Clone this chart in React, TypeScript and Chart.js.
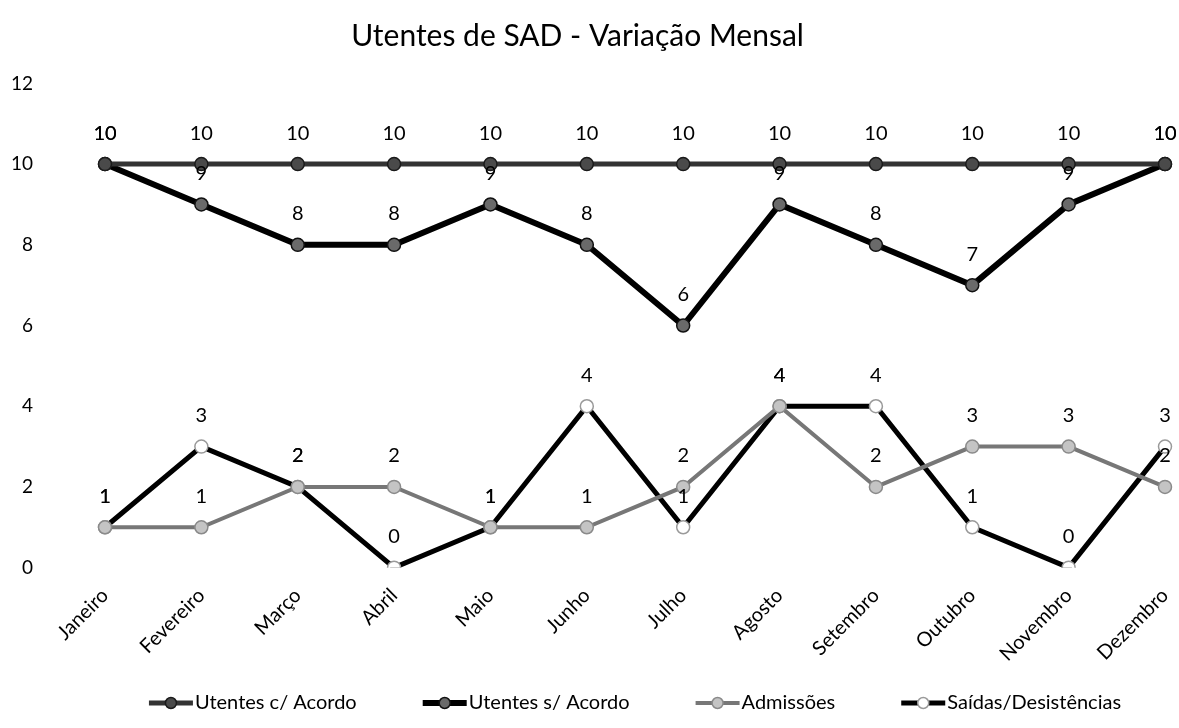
import React, { useEffect, useRef } from "react";
import { Chart, registerables } from "chart.js";

Chart.register(...registerables);

const months = ["Janeiro", "Fevereiro", "Março", "Abril", "Maio", "Junho", "Julho", "Agosto", "Setembro", "Outubro", "Novembro", "Dezembro"];
const comAcordo = [10, 10, 10, 10, 10, 10, 10, 10, 10, 10, 10, 10];
const semAcordo = [10, 9, 8, 8, 9, 8, 6, 9, 8, 7, 9, 10];
const admissoes = [1, 1, 2, 2, 1, 1, 2, 4, 2, 3, 3, 2];
const saidas = [1, 3, 2, 0, 1, 4, 1, 4, 4, 1, 0, 3];
const seriesNames = ["Utentes c/ Acordo", "Utentes s/ Acordo", "Admissões", "Saídas/Desistências"];
const titleText = "Utentes de SAD - Variação Mensal";

const FONT = "Lato, 'Noto Sans', sans-serif";

const styles = [
  { line: "#333333", w: 5, fill: "#4a4a4a", stroke: "#1a1a1a" },
  { line: "#000000", w: 6, fill: "#6a6a6a", stroke: "#111111" },
  { line: "#777777", w: 4, fill: "#c4c4c4", stroke: "#8a8a8a" },
  { line: "#000000", w: 5, fill: "#ffffff", stroke: "#9a9a9a" },
];

const dataLabels = {
  id: "dataLabels",
  afterDatasetsDraw(chart: any) {
    const ctx = chart.ctx;
    ctx.save();
    ctx.font = `20px ${FONT}`;
    ctx.fillStyle = "#000";
    ctx.textAlign = "center";
    ctx.textBaseline = "middle";
    chart.data.datasets.forEach((ds: any, i: number) => {
      const meta = chart.getDatasetMeta(i);
      meta.data.forEach((pt: any, j: number) => {
        ctx.fillText(String(ds.data[j]), pt.x, pt.y - 31);
      });
    });
    ctx.restore();
  },
};

const customTitle = {
  id: "customTitle",
  afterDraw(chart: any) {
    const ctx = chart.ctx;
    ctx.save();
    ctx.font = `30px ${FONT}`;
    ctx.fillStyle = "#000";
    ctx.textAlign = "center";
    ctx.textBaseline = "middle";
    ctx.fillText(titleText, chart.width / 2 - 12, 36);
    ctx.restore();
  },
};

const customLegend = {
  id: "customLegend",
  afterDraw(chart: any) {
    const ctx = chart.ctx;
    ctx.save();
    ctx.font = `20px ${FONT}`;
    ctx.textBaseline = "middle";
    ctx.textAlign = "left";
    const iconW = 44;
    const gap = 2;
    const spacing = 66;
    const widths = chart.data.datasets.map((ds: any) => iconW + gap + ctx.measureText(ds.label).width);
    const total = widths.reduce((a: number, b: number) => a + b, 0) + spacing * (widths.length - 1);
    const area = chart.chartArea;
    let x = (area.left + area.right) / 2 - total / 2;
    const y = chart.height - 25;
    chart.data.datasets.forEach((ds: any, i: number) => {
      const s = styles[i];
      ctx.strokeStyle = s.line;
      ctx.lineWidth = s.w;
      ctx.beginPath();
      ctx.moveTo(x, y);
      ctx.lineTo(x + iconW, y);
      ctx.stroke();
      ctx.beginPath();
      ctx.arc(x + iconW / 2, y, 5.5, 0, Math.PI * 2);
      ctx.fillStyle = s.fill;
      ctx.fill();
      ctx.lineWidth = 1.5;
      ctx.strokeStyle = s.stroke;
      ctx.stroke();
      ctx.fillStyle = "#000";
      ctx.fillText(ds.label, x + iconW + gap, y);
      x += widths[i] + spacing;
    });
    ctx.restore();
  },
};

export default function App() {
  const ref = useRef<HTMLCanvasElement>(null);
  useEffect(() => {
    const seriesData = [comAcordo, semAcordo, admissoes, saidas];
    const chart = new Chart(ref.current!, {
      type: "line",
      data: {
        labels: months,
        datasets: seriesNames.map((name, i) => ({
          label: name,
          data: seriesData[i],
          borderColor: styles[i].line,
          borderWidth: styles[i].w,
          pointRadius: 6.5,
          pointBackgroundColor: styles[i].fill,
          pointBorderColor: styles[i].stroke,
          pointBorderWidth: 1.5,
          pointStyle: "circle",
          tension: 0,
          fill: false,
        })),
      },
      options: {
        responsive: false,
        animation: false,
        layout: { padding: { left: 12, right: 14, top: 73, bottom: 46 }, autoPadding: false },
        plugins: {
          title: { display: false },
          legend: { display: false },
          tooltip: { enabled: false },
        },
        scales: {
          x: {
            offset: false,
            grid: { display: false, drawTicks: false },
            border: { display: false },
            ticks: {
              color: "#000",
              font: { family: FONT, size: 20 },
              maxRotation: 45,
              minRotation: 45,
              padding: 16,
              autoSkip: false,
            },
            afterFit(s: any) {
              s.paddingLeft = 0;
              s.paddingRight = 0;
            },
          },
          y: {
            min: 0,
            max: 12,
            grid: { display: false, drawTicks: false },
            border: { display: false },
            ticks: {
              stepSize: 2,
              color: "#000",
              font: { family: FONT, size: 19 },
              padding: 72,
            },
            afterFit(s: any) {
              s.width = 93;
            },
          },
        },
      },
      plugins: [dataLabels, customTitle, customLegend],
    });
    return () => chart.destroy();
  }, []);
  return (
    <div style={{ position: "absolute", left: 0, top: 0, width: 1179, height: 728, background: "#fff" }}>
      <canvas ref={ref} width={1179} height={728} />
    </div>
  );
}
